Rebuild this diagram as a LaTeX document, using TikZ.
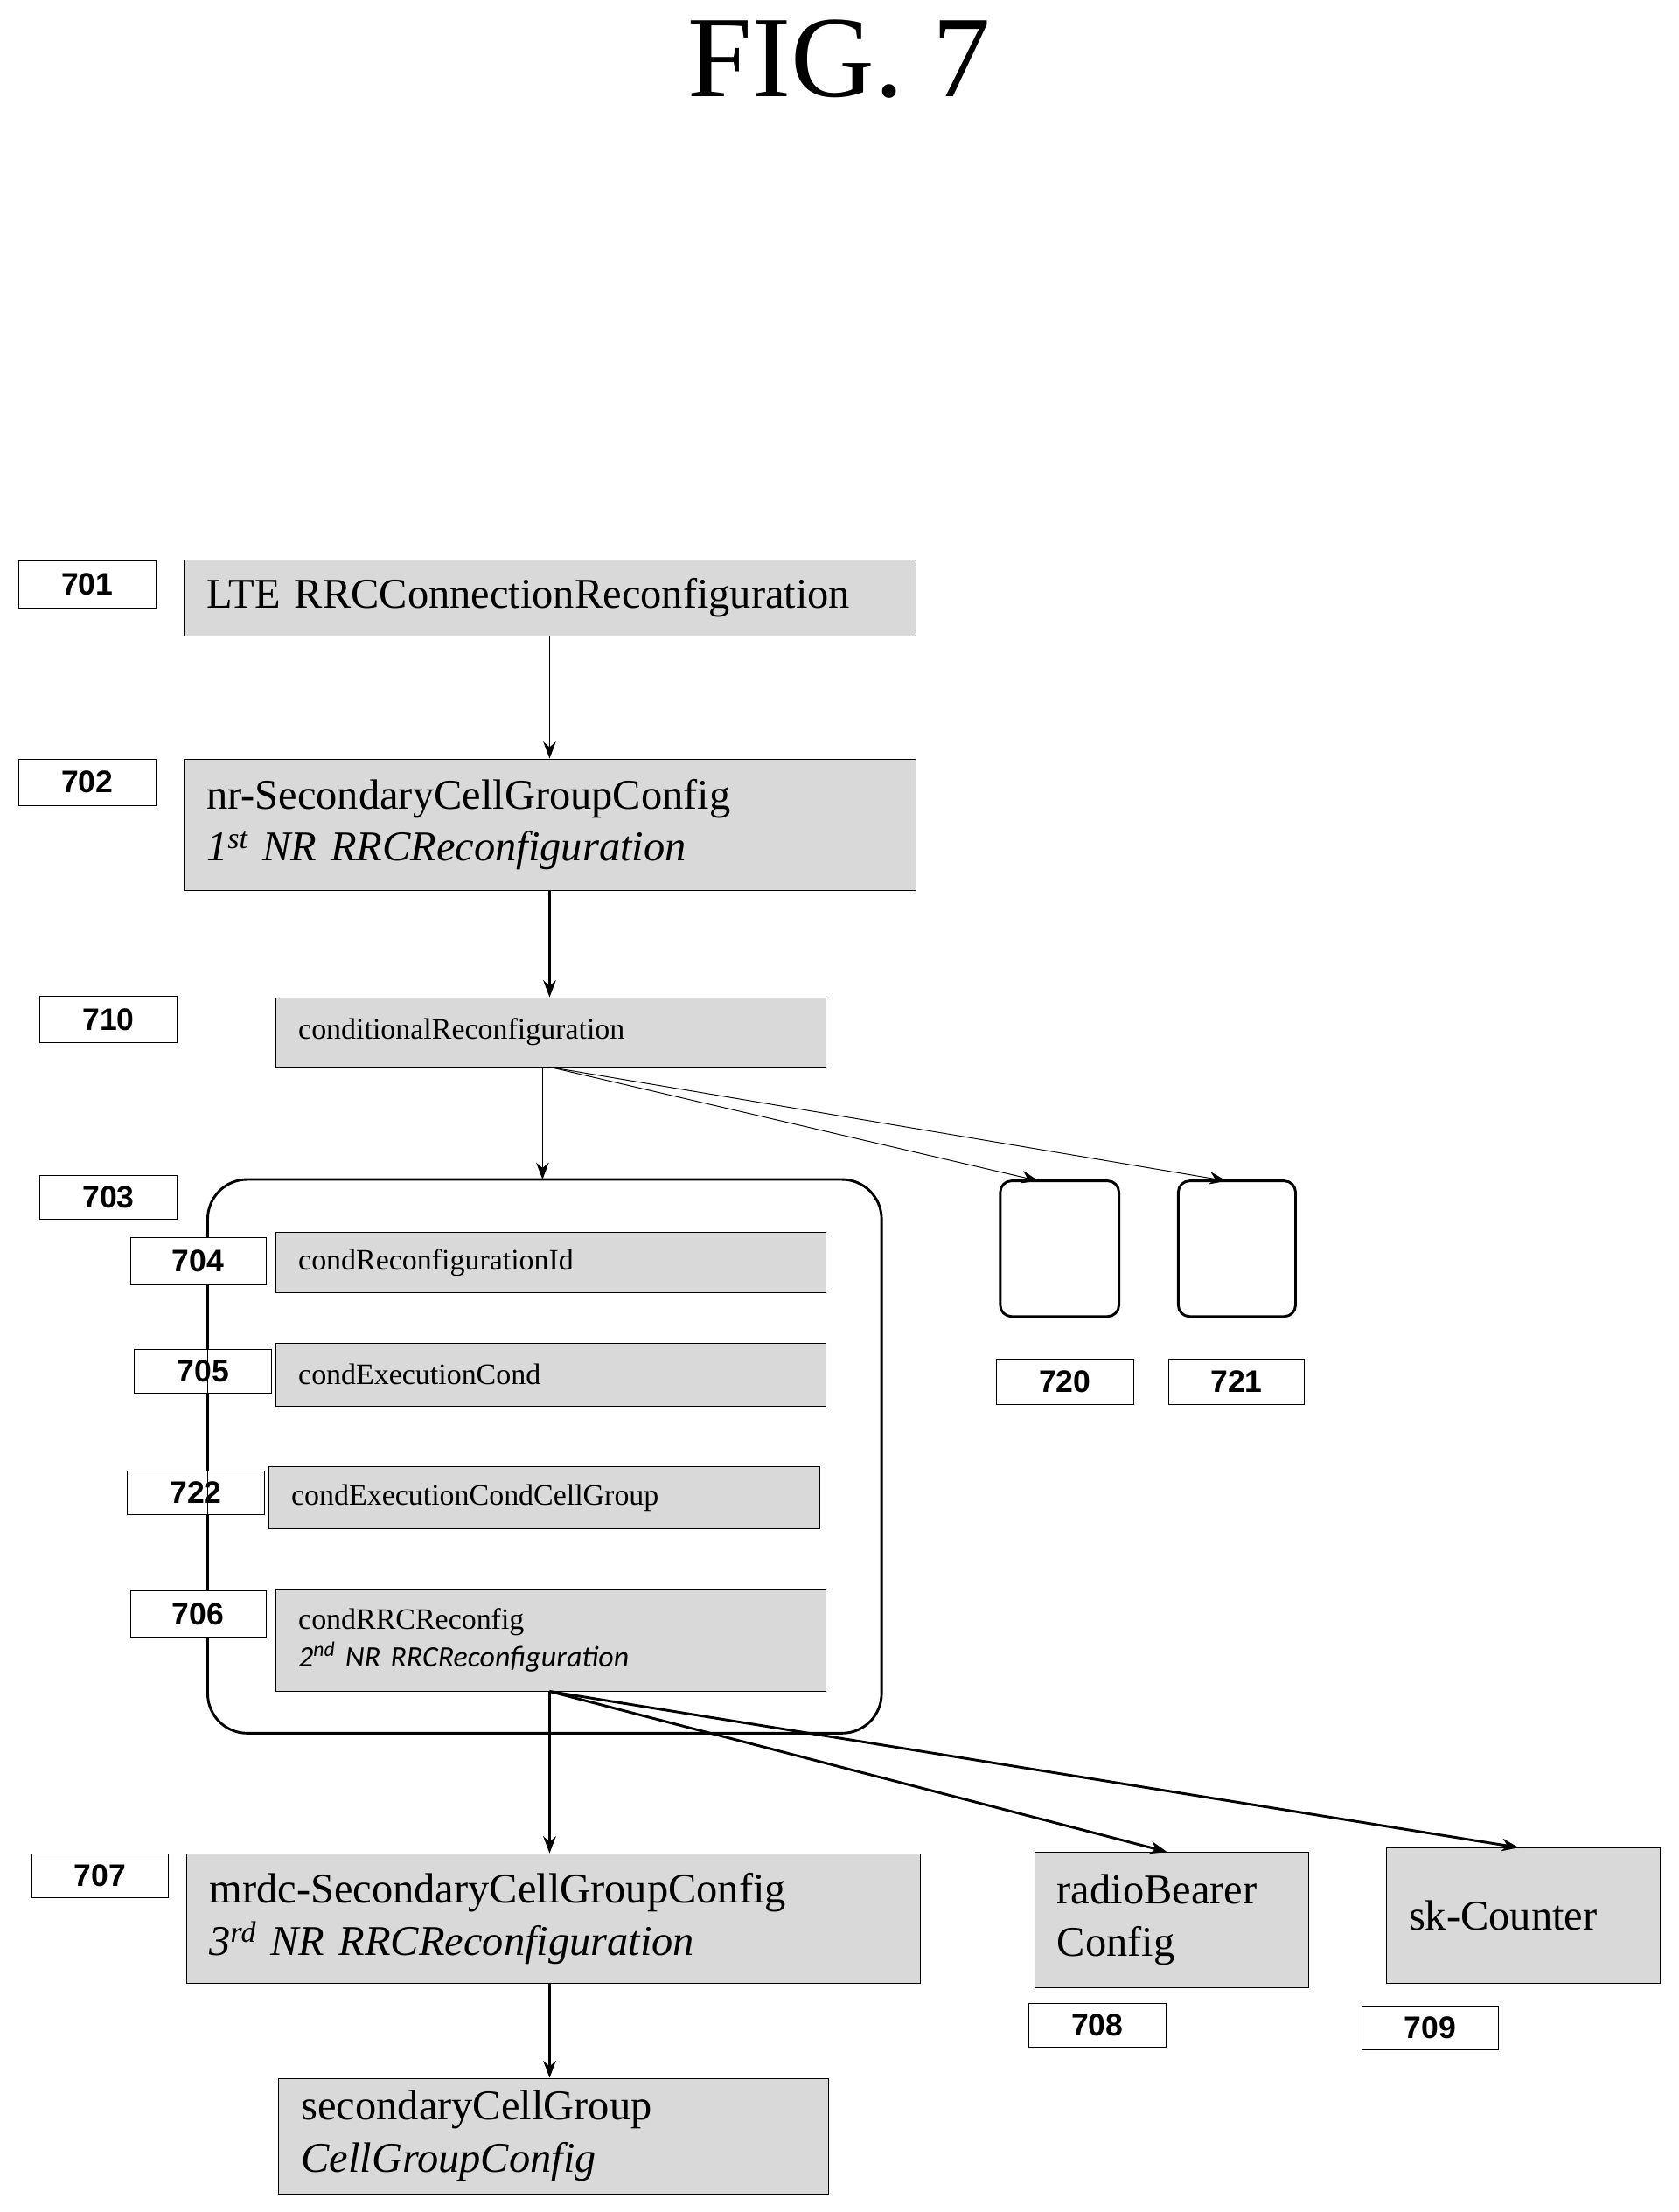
\documentclass[tikz,border=0pt]{standalone}
\usepackage{fontspec}
\setmainfont{Liberation Serif}
\newfontfamily\numfont{Liberation Sans}
\newfontfamily\itfont{Carlito}
\usetikzlibrary{arrows.meta}
\tikzset{
  box/.style={draw, fill=gray!30, anchor=north west, align=left, inner xsep=16pt, inner ysep=0pt},
  num/.style={draw, fill=white, anchor=north west, inner sep=0pt, font=\numfont\bfseries\fontsize{22}{24}\selectfont},
  big/.style={font=\fontsize{30}{37}\selectfont},
  small/.style={font=\fontsize{21}{27}\selectfont},
  thin/.style={-{Stealth[length=12pt,width=9pt]}, line width=0.6pt},
  thick/.style={-{Stealth[length=12pt,width=9pt]}, line width=1.8pt}
}
\newcommand\twolines[2]{#1\\{\itfont\itshape #2}}
\begin{document}
\begin{tikzpicture}[x=1pt,y=-1pt]
  \useasboundingbox (0,0) rectangle (1188,1566);
  \node[font=\fontsize{82}{90}\selectfont] (title) at (594,42) {FIG. 7};

  % main chain
  \node[box, big, text width=486pt, minimum height=54pt] (lte) at (130,396) {LTE RRCConnectionReconfiguration};
  \node[box, big, text width=486pt, minimum height=93pt] (nrscg) at (130,537)
    {nr-SecondaryCellGroupConfig\\\textit{1\textsuperscript{st} NR RRCReconfiguration}};
  \node[box, small, text width=357pt, minimum height=49pt] (cond) at (195,706) {conditionalReconfiguration};

  % condReconfigToAddMod container
  \draw[line width=1.8pt, rounded corners=28pt] (147,835) rectangle (624,1227);
  \coordinate (crtop) at (384,835);
  \node[box, small, text width=357pt, minimum height=43pt] (cid) at (195,872) {condReconfigurationId};
  \node[box, small, text width=357pt, minimum height=44pt] (cec) at (195,951) {condExecutionCond};
  \node[box, small, text width=358pt, minimum height=44pt, inner xsep=16pt] (cecg) at (190,1038) {condExecutionCondCellGroup};
  \node[box, small, text width=357pt, minimum height=72pt] (crr) at (195,1125)
    {condRRCReconfig\\{\itfont\itshape 2\textsuperscript{nd} NR RRCReconfiguration}};

  % empty entries
  \draw[line width=1.8pt, rounded corners=8pt] (708,836) rectangle (792,932);
  \draw[line width=1.8pt, rounded corners=8pt] (834,836) rectangle (917,932);
  \coordinate (e1) at (735,836);
  \coordinate (e2) at (868,836);

  % third level
  \node[box, big, text width=487pt, minimum height=92pt] (mrdc) at (132,1312)
    {mrdc-SecondaryCellGroupConfig\\\textit{3\textsuperscript{rd} NR RRCReconfiguration}};
  \node[box, big, text width=162pt, minimum height=96pt] (rbc) at (732,1311) {radioBearer\\Config};
  \node[box, big, text width=162pt, minimum height=96pt, anchor=north west] (skc) at (981,1308) {sk-Counter\\[36pt]};
  \node[box, big, text width=357pt, minimum height=82pt] (scg) at (197,1471)
    {secondaryCellGroup\\\textit{CellGroupConfig}};

  % reference numerals
  \node[num, minimum width=97pt, minimum height=33pt] (n701) at (13,397) {701};
  \node[num, minimum width=97pt, minimum height=33pt] (n702) at (13,537) {702};
  \node[num, minimum width=97pt, minimum height=33pt] (n710) at (28,705) {710};
  \node[num, minimum width=97pt, minimum height=31pt] (n703) at (28,832) {703};
  \node[num, minimum width=96pt, minimum height=33pt] (n704) at (92,876) {704};
  \node[num, minimum width=97pt, minimum height=31pt] (n705) at (95,955) {705};
  \node[num, minimum width=97pt, minimum height=31pt] (n722) at (90,1041) {722};
  \node[num, minimum width=96pt, minimum height=33pt] (n706) at (92,1126) {706};
  \node[num, minimum width=97pt, minimum height=32pt] (n720) at (705,962) {720};
  \node[num, minimum width=96pt, minimum height=32pt] (n721) at (827,962) {721};
  \node[num, minimum width=97pt, minimum height=31pt] (n707) at (22,1312) {707};
  \node[num, minimum width=97pt, minimum height=31pt] (n708) at (728,1418) {708};
  \node[num, minimum width=96pt, minimum height=31pt] (n709) at (964,1420) {709};

  % connectors
  \draw[line width=1.2pt] (n704.south -| 147,0) -- (n706.north -| 147,0);
  \draw[thin] (lte.south -| 389,0) -- (nrscg.north -| 389,0);
  \draw[thick] (nrscg.south -| 389,0) -- (cond.north -| 389,0);
  \draw[thin] (cond.south -| 384,0) -- (crtop);
  \draw[thin] (cond.south -| 389,0) -- (e1);
  \draw[thin] (cond.south -| 389,0) -- (e2);
  \draw[thick] (crr.south -| 389,0) -- (mrdc.north -| 389,0);
  \draw[thick] (crr.south -| 389,0) -- (rbc.north -| 826,0);
  \draw[thick] (crr.south -| 389,0) -- (skc.north -| 1075,0);
  \draw[thick] (mrdc.south -| 389,0) -- (scg.north -| 389,0);
\end{tikzpicture}
\end{document}
